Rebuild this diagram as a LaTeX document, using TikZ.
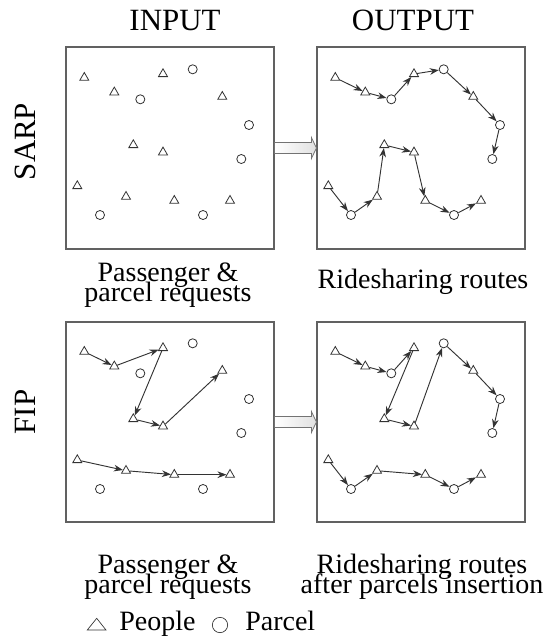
\documentclass[tikz,border=0pt]{standalone}
\usepackage{fontspec}
\setmainfont{Liberation Serif}
\usetikzlibrary{shapes.geometric,arrows.meta,calc}
\begin{document}
\begin{tikzpicture}[x=0.75pt,y=-0.75pt,
  hdr/.style={inner sep=0pt,font=\fontsize{23.2pt}{24pt}\selectfont},
  lbl/.style={inner sep=0pt,font=\fontsize{21pt}{22pt}\selectfont},
  frame/.style={draw=black!62,line width=0.85pt,minimum width=156pt,inner sep=0pt},
  tri/.style={regular polygon,regular polygon sides=3,draw=black!80,line width=0.6pt,minimum size=7.8pt,inner sep=0pt,fill=white},
  cir/.style={circle,draw=black!80,line width=0.6pt,minimum size=6.8pt,inner sep=0pt,fill=white},
  arr/.style={draw=black!80,line width=0.7pt,-{Stealth[length=6.8pt,width=5pt]}},
  blk/.style={draw=black!55,line width=0.6pt,left color=white,right color=black!12}
]
\useasboundingbox (0,0) rectangle (543,639);
% headers
\node[hdr,anchor=base] (hin) at (175,31) {INPUT};
\node[hdr,anchor=base] (hout) at (413,31) {OUTPUT};
\node[hdr,anchor=base,rotate=90] (hsarp) at (36,141.5) {SARP};
\node[hdr,anchor=base,rotate=90] (hfip) at (36,412) {FIP};
% frames
\node[frame,minimum height=151.5pt] (boxa) at (170,148) {};
\node[frame,minimum height=151.5pt] (boxb) at (421,148) {};
\node[frame,minimum height=150pt] (boxc) at (170,422) {};
\node[frame,minimum height=150pt] (boxd) at (421,422) {};
% block arrows
\draw[blk] ($(boxa.east)+(0,-5.5)$) -- ($(boxb.west)+(-5,-5.5)$) -- ($(boxb.west)+(-5,-10.5)$) -- (boxb.west) -- ($(boxb.west)+(-5,10.5)$) -- ($(boxb.west)+(-5,5.5)$) -- ($(boxa.east)+(0,5.5)$) -- cycle;
\draw[blk] ($(boxc.east)+(0,-5.5)$) -- ($(boxd.west)+(-5,-5.5)$) -- ($(boxd.west)+(-5,-10.5)$) -- (boxd.west) -- ($(boxd.west)+(-5,10.5)$) -- ($(boxd.west)+(-5,5.5)$) -- ($(boxc.east)+(0,5.5)$) -- cycle;
% markers
\foreach \bx/\dx/\dy in {a/0/0,b/251/0,c/0/274,d/251/274}{
  \foreach \n/\px/\py in {T1/84.3/77.7,T2/114.3/92.3,T3/163/74,T4/222.3/96.7,T5/133.3/145,T6/163/152.3,T7/77.3/186,T8/126/196.7,T9/174.3/200.7,T10/230/200.7}
    \node[tri] (\bx\n) at (\px+\dx,\py+\dy) {};
  \foreach \n/\px/\py in {C1/192.7/69.3,C2/140.3/99.3,C3/249/125,C4/241.3/159,C5/100/215,C6/203/215}
    \node[cir] (\bx\n) at (\px+\dx,\py+\dy) {};
}
% routes
\foreach \u/\v in {T1/T2,T2/C2,C2/T3,T3/C1,C1/T4,T4/C3,C3/C4,T7/C5,C5/T8,T8/T5,T5/T6,T6/T9,T9/C6,C6/T10}
  \draw[arr] (b\u) -- (b\v);
\foreach \u/\v in {T1/T2,T2/T3,T3/T5,T5/T6,T6/T4,T7/T8,T8/T9,T9/T10}
  \draw[arr] (c\u) -- (c\v);
\foreach \u/\v in {T1/T2,T2/C2,C2/T3,T3/T5,T5/T6,T6/C1,C1/T4,T4/C3,C3/C4,T7/C5,C5/T8,T8/T9,T9/C6,C6/T10}
  \draw[arr] (d\u) -- (d\v);
% labels
\node[lbl,anchor=base] (la1) at (168,281) {Passenger \&};
\node[lbl,anchor=base] (la2) at (168,301) {parcel requests};
\node[lbl,anchor=base] (lb1) at (423,288) {Ridesharing routes};
\node[lbl,anchor=base] (lc1) at (168,573) {Passenger \&};
\node[lbl,anchor=base] (lc2) at (168,593) {parcel requests};
\node[lbl,anchor=base] (ld1) at (422,573) {Ridesharing routes};
\node[lbl,anchor=base] (ld2) at (422,593) {after parcels insertion};
% legend
\draw[black!80,line width=0.5pt] (87.3,630) -- (106,630) -- (96.7,618.3) -- cycle;
\node[lbl,anchor=base west] (lp) at (119,630) {People};
\node[circle,draw=black!80,line width=0.5pt,minimum size=11.5pt,inner sep=0pt] (lcir) at (220,625) {};
\node[lbl,anchor=base west] (lq) at (245,630) {Parcel};
\end{tikzpicture}
\end{document}
